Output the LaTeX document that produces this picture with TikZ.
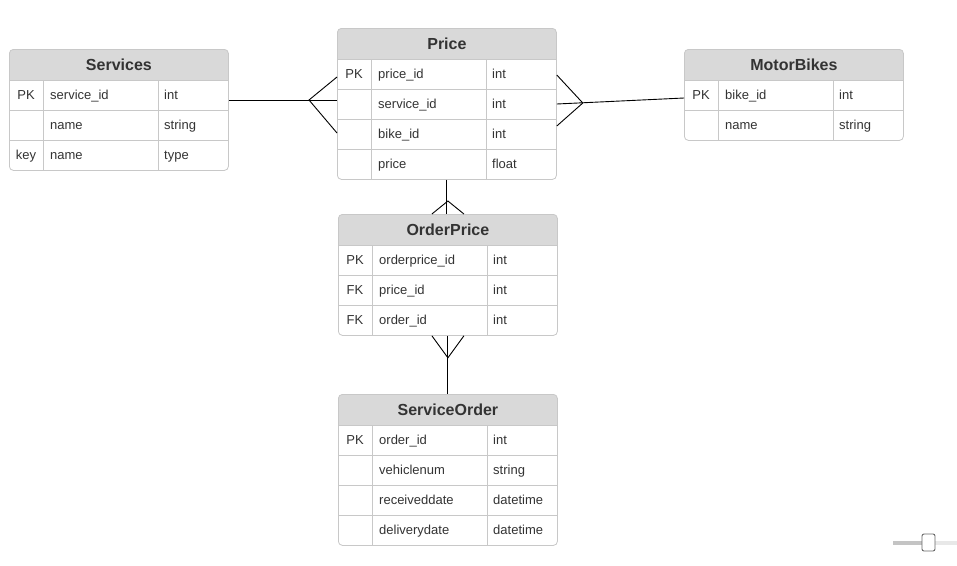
\documentclass[tikz,border=0pt]{standalone}
\usepackage{fontspec}
\setmainfont{Liberation Sans}
\usetikzlibrary{positioning}
\definecolor{headgray}{HTML}{D9D9D9}
\definecolor{linegray}{HTML}{C8C8C8}
\definecolor{textgray}{HTML}{333333}
\definecolor{trackgray}{HTML}{C4C4C4}

\begin{document}
\begin{tikzpicture}[
  x=1pt,
  y=-1pt,
  grid/.style={
    draw=linegray,
    line width=0.8pt,
    sharp corners
  },
  entity/.style={
    rectangle,
    draw=linegray,
    line width=0.8pt,
    fill=white,
    rounded corners=4pt,
    minimum width=219pt,
    inner sep=0pt,
    anchor=north west,
    path picture={
      \fill[headgray, sharp corners] (path picture bounding box.north west) rectangle ([yshift=-31pt]path picture bounding box.north east);
      \foreach \rowno in {0,...,4}
        \draw[grid] ([yshift=-31pt-30pt*\rowno]path picture bounding box.north west) -- ([yshift=-31pt-30pt*\rowno]path picture bounding box.north east);
      \draw[grid] ([xshift=34pt,yshift=-31pt]path picture bounding box.north west) -- ([xshift=34pt]path picture bounding box.south west);
      \draw[grid] ([xshift=149pt,yshift=-31pt]path picture bounding box.north west) -- ([xshift=149pt]path picture bounding box.south west);
    }
  },
  entitytitle/.style={
    font=\fontsize{16}{18}\selectfont\bfseries,
    text=textgray,
    text height=11.5pt,
    text depth=0pt,
    inner sep=0pt
  },
  keycell/.style={
    font=\fontsize{13}{15}\selectfont,
    text=textgray,
    text height=9.4pt,
    text depth=0pt,
    inner sep=0pt
  },
  fieldcell/.style={
    keycell,
    anchor=west
  },
  rel/.style={
    draw=black,
    line width=0.9pt
  }
]

\fill[white] (0,0) rectangle (957,565);
\useasboundingbox (0,0) rectangle (957,565);

% Services
\node[entity, minimum height=121pt] (services) at (9,49) {};
\node[entitytitle] (services-title) at ([yshift=-15.5pt]services.north) {Services};
\foreach \k/\f/\t [count=\i] in {PK/service\_id/int, {}/name/string, key/name/type} {
  \node[keycell] (services-k\i) at ([xshift=17pt,yshift=-16pt-30pt*\i]services.north west) {\k};
  \node[fieldcell] (services-f\i) at ([xshift=41pt,yshift=-16pt-30pt*\i]services.north west) {\f};
  \node[fieldcell] (services-t\i) at ([xshift=155pt,yshift=-16pt-30pt*\i]services.north west) {\t};
}

% Price
\node[entity, minimum height=151pt] (price) at (337,28) {};
\node[entitytitle] (price-title) at ([yshift=-15.5pt]price.north) {Price};
\foreach \k/\f/\t [count=\i] in {PK/price\_id/int, {}/service\_id/int, {}/bike\_id/int, {}/price/float} {
  \node[keycell] (price-k\i) at ([xshift=17pt,yshift=-16pt-30pt*\i]price.north west) {\k};
  \node[fieldcell] (price-f\i) at ([xshift=41pt,yshift=-16pt-30pt*\i]price.north west) {\f};
  \node[fieldcell] (price-t\i) at ([xshift=155pt,yshift=-16pt-30pt*\i]price.north west) {\t};
}

% MotorBikes
\node[entity, minimum height=91pt] (motorbikes) at (684,49) {};
\node[entitytitle] (motorbikes-title) at ([yshift=-15.5pt]motorbikes.north) {MotorBikes};
\foreach \k/\f/\t [count=\i] in {PK/bike\_id/int, {}/name/string} {
  \node[keycell] (motorbikes-k\i) at ([xshift=17pt,yshift=-16pt-30pt*\i]motorbikes.north west) {\k};
  \node[fieldcell] (motorbikes-f\i) at ([xshift=41pt,yshift=-16pt-30pt*\i]motorbikes.north west) {\f};
  \node[fieldcell] (motorbikes-t\i) at ([xshift=155pt,yshift=-16pt-30pt*\i]motorbikes.north west) {\t};
}

% OrderPrice
\node[entity, minimum height=121pt] (orderprice) at (338,214) {};
\node[entitytitle] (orderprice-title) at ([yshift=-15.5pt]orderprice.north) {OrderPrice};
\foreach \k/\f/\t [count=\i] in {PK/orderprice\_id/int, FK/price\_id/int, FK/order\_id/int} {
  \node[keycell] (orderprice-k\i) at ([xshift=17pt,yshift=-16pt-30pt*\i]orderprice.north west) {\k};
  \node[fieldcell] (orderprice-f\i) at ([xshift=41pt,yshift=-16pt-30pt*\i]orderprice.north west) {\f};
  \node[fieldcell] (orderprice-t\i) at ([xshift=155pt,yshift=-16pt-30pt*\i]orderprice.north west) {\t};
}

% ServiceOrder
\node[entity, minimum height=151pt] (serviceorder) at (338,394) {};
\node[entitytitle] (serviceorder-title) at ([yshift=-15.5pt]serviceorder.north) {ServiceOrder};
\foreach \k/\f/\t [count=\i] in {PK/order\_id/int, {}/vehiclenum/string, {}/receiveddate/datetime, {}/deliverydate/datetime} {
  \node[keycell] (serviceorder-k\i) at ([xshift=17pt,yshift=-16pt-30pt*\i]serviceorder.north west) {\k};
  \node[fieldcell] (serviceorder-f\i) at ([xshift=41pt,yshift=-16pt-30pt*\i]serviceorder.north west) {\f};
  \node[fieldcell] (serviceorder-t\i) at ([xshift=155pt,yshift=-16pt-30pt*\i]serviceorder.north west) {\t};
}

% relations
\draw[rel] ([yshift=-51pt]services.north east) -- ([yshift=-72pt]price.north west);
\draw[rel] ([yshift=-49pt]price.north west) -- ([xshift=-28pt,yshift=-72pt]price.north west) -- ([yshift=-105pt]price.north west);

\draw[rel] ([yshift=-76pt]price.north east) -- ([yshift=-49pt]motorbikes.north west);
\draw[rel] ([yshift=-47pt]price.north east) -- ([xshift=26pt,yshift=-75pt]price.north east) -- ([yshift=-98pt]price.north east);

\draw[rel] (price.south) -- (price.south |- orderprice.north);
\draw[rel] ([xshift=-16pt]orderprice.north) -- ([yshift=13pt]orderprice.north) -- ([xshift=16pt]orderprice.north);

\draw[rel] (orderprice.south) -- (serviceorder.north);
\draw[rel] ([xshift=-16pt]orderprice.south) -- ([yshift=-22pt]orderprice.south) -- ([xshift=16pt]orderprice.south);

% zoom slider
\fill[trackgray] (893,541) rectangle (922,545);
\fill[headgray!60] (935,541) rectangle (957,545);
\draw[fill=white, draw=gray!80!black, line width=0.9pt, rounded corners=2pt] (922,534) rectangle (935,551);

\end{tikzpicture}
\end{document}
